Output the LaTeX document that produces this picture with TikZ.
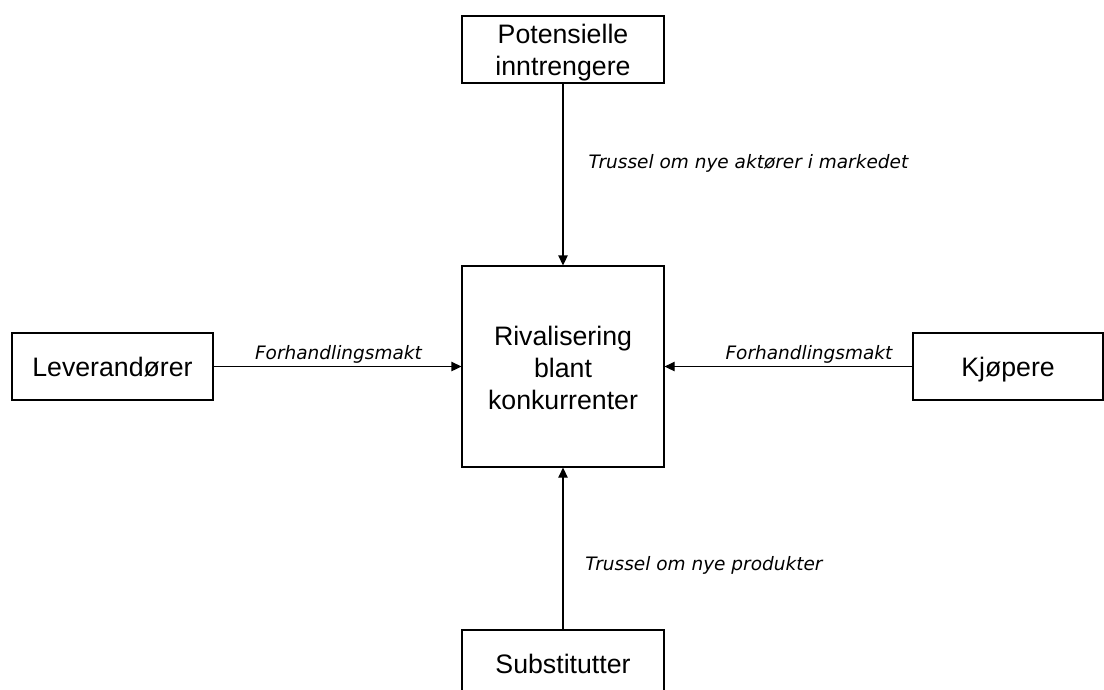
\documentclass[tikz,border=0pt]{standalone}
\usepackage{fontspec}
\setmainfont{Liberation Sans}
\newfontfamily\labelfont{DejaVu Sans}
\usetikzlibrary{arrows.meta}
\newcommand{\stacklines}[1]{\begin{tabular}[b]{@{}c@{}}#1\end{tabular}}
\tikzset{
  box/.style={draw, line width=1.3pt, minimum width=202pt, minimum height=67pt, inner sep=0pt, align=center,
    text height=20pt, text depth=0pt,
    font=\fontsize{26.7}{31.5}\selectfont},
  conn/.style={line width=1.3pt, -{Triangle[length=10pt,width=9.5pt]}},
  lbl/.style={inner sep=0pt, anchor=base, font=\labelfont\itshape\fontsize{18.5}{22}\selectfont}
}
\begin{document}
\begin{tikzpicture}[x=1pt,y=-1pt]
\useasboundingbox (0,0) rectangle (1104,689);
\node[box, text height=51.5pt] (top) at (563,49.5) {\stacklines{Potensielle\\inntrengere}};
\node[box, minimum height=201pt, text height=85pt, font=\fontsize{26.7}{32}\selectfont] (mid) at (563,366.5) {\stacklines{Rivalisering\\blant\\konkurrenter}};
\node[box, minimum width=201pt] (lev) at (112.5,366.5) {Leverandører};
\node[box, minimum width=190pt] (kjo) at (1008,366.5) {Kjøpere};
\node[box, text height=19pt] (sub) at (563,663.5) {Substitutter};
\draw[conn] (top) -- (mid);
\draw[conn] (lev) -- (mid);
\draw[conn] (kjo) -- (mid);
\draw[conn] (sub) -- (mid);
\node[lbl] (l1) at (748.5,168) {Trussel om nye aktører i markedet};
\node[lbl] (l2) at (338.5,359) {Forhandlingsmakt};
\node[lbl] (l3) at (809,359) {Forhandlingsmakt};
\node[lbl] (l4) at (704,570) {Trussel om nye produkter};
\end{tikzpicture}
\end{document}
